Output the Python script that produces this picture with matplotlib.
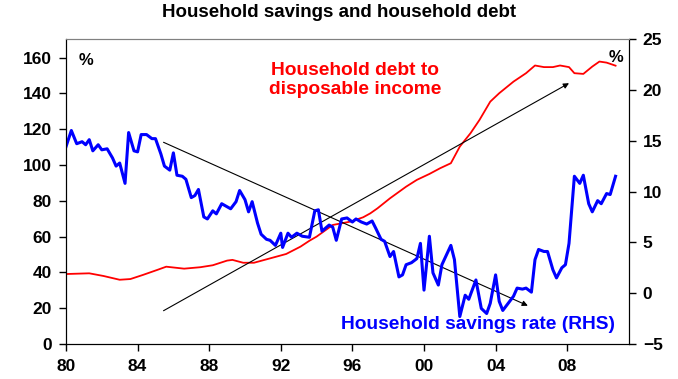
import matplotlib
matplotlib.use("Agg")
import matplotlib.pyplot as plt

plt.rcParams["font.family"] = ["Liberation Sans", "DejaVu Sans"]
plt.rcParams["font.weight"] = "bold"

# Household debt to disposable income (%), left axis
debt_years = [1980.0, 1981.3, 1982.1, 1983.0, 1983.6, 1984.3, 1985.1, 1985.6, 1986.6,
              1987.5, 1988.2, 1989.0, 1989.3, 1989.9, 1990.5, 1991.2, 1992.3, 1993.1,
              1993.6, 1994.0, 1994.9, 1995.9, 1996.6, 1997.0, 1997.4, 1998.1, 1999.0,
              1999.6, 2000.3, 2000.9, 2001.5, 2002.0, 2002.6, 2003.1, 2003.7, 2004.2,
              2005.0, 2005.7, 2006.2, 2006.7, 2007.2, 2007.6, 2008.1, 2008.4, 2008.9,
              2009.4, 2009.8, 2010.2, 2010.7]
debt = [39.1, 39.5, 38.0, 35.9, 36.3, 38.6, 41.4, 43.2, 42.1,
        42.9, 44.0, 46.6, 47.0, 45.4, 45.4, 47.3, 50.3, 54.4,
        57.7, 60.0, 66.5, 68.4, 70.8, 73.0, 75.8, 81.4, 87.9,
        91.7, 95.0, 98.2, 101.0, 110.3, 117.8, 125.2, 135.4, 140.1,
        146.6, 151.3, 155.6, 154.7, 154.7, 155.6, 154.7, 151.3, 150.9,
        155.0, 157.8, 157.2, 155.5]

# Household savings rate (%), right axis
sav_years = [1980.0, 1980.3, 1980.6, 1980.9, 1981.1, 1981.3, 1981.5, 1981.8, 1982.0,
             1982.3, 1982.6, 1982.8, 1983.0, 1983.3, 1983.5, 1983.8, 1984.0, 1984.2,
             1984.5, 1984.8, 1985.0, 1985.3, 1985.5, 1985.8, 1986.0, 1986.2, 1986.5,
             1986.7, 1987.0, 1987.2, 1987.4, 1987.7, 1987.9, 1988.2, 1988.4, 1988.7,
             1989.0, 1989.2, 1989.5, 1989.7, 1990.0, 1990.2, 1990.4, 1990.7, 1990.9,
             1991.2, 1991.4, 1991.7, 1992.0, 1992.1, 1992.4, 1992.6, 1992.9, 1993.2,
             1993.6, 1993.9, 1994.1, 1994.3, 1994.7, 1994.9, 1995.1, 1995.4, 1995.7,
             1996.0, 1996.2, 1996.5, 1996.8, 1997.1, 1997.3, 1997.6, 1997.8, 1998.1,
             1998.3, 1998.6, 1998.8, 1999.0, 1999.3, 1999.6, 1999.8, 2000.0, 2000.3,
             2000.5, 2000.8, 2001.0, 2001.5, 2001.7, 2002.0, 2002.3, 2002.5, 2002.9,
             2003.2, 2003.5, 2003.7, 2004.0, 2004.2, 2004.4, 2004.7, 2005.0, 2005.2,
             2005.5, 2005.7, 2006.0, 2006.2, 2006.4, 2006.7, 2006.9, 2007.2, 2007.4,
             2007.7, 2007.9, 2008.1, 2008.4, 2008.7, 2008.9, 2009.2, 2009.4, 2009.7,
             2009.9, 2010.2, 2010.4, 2010.7]
savings = [14.4, 16.0, 14.7, 14.9, 14.6, 15.1, 14.0, 14.6, 14.1,
           14.2, 13.3, 12.5, 12.8, 10.8, 15.8, 14.0, 13.9, 15.6,
           15.6, 15.2, 15.2, 13.7, 12.5, 12.1, 13.8, 11.6, 11.5,
           11.2, 9.4, 9.6, 10.2, 7.5, 7.3, 8.1, 7.8, 8.8,
           8.5, 8.3, 9.0, 10.1, 9.2, 8.0, 9.0, 6.9, 5.8,
           5.3, 5.2, 4.7, 5.9, 4.5, 5.9, 5.5, 5.9, 5.6,
           5.5, 8.1, 8.2, 6.1, 6.7, 6.5, 5.2, 7.3, 7.4,
           7.0, 7.3, 7.0, 6.8, 7.1, 6.4, 5.3, 5.1, 3.6,
           4.1, 1.6, 1.8, 2.8, 3.0, 3.4, 4.9, 0.3, 5.6,
           2.0, 0.8, 2.8, 4.7, 3.3, -2.3, -0.2, -0.6, 1.3,
           -1.5, -2.0, -1.0, 1.8, -0.8, -1.7, -1.0, -0.3, 0.5,
           0.4, 0.5, 0.1, 3.3, 4.3, 4.1, 4.1, 2.3, 1.5,
           2.5, 2.8, 4.9, 11.5, 10.8, 11.6, 8.8, 8.0, 9.1,
           8.8, 9.8, 9.7, 11.5]

year_ticks = [1980, 1984, 1988, 1992, 1996, 2000, 2004, 2008]
year_labels = ["80", "84", "88", "92", "96", "00", "04", "08"]

# trend arrows (start, end) in (year, left-axis %) terms
savings_arrow = ((1985.45, 112.7), (2005.8, 21.4))
debt_arrow = ((1985.45, 18.6), (2008.1, 145.7))

fig = plt.figure(figsize=(6.78, 3.79), dpi=100)
ax = fig.add_axes([0.0973, 0.0923, 0.8304, 0.8048])
ax2 = ax.twinx()

ax.plot(debt_years, debt, color="#ff0000", lw=1.3)
ax2.plot(sav_years, savings, color="#0000ff", lw=2.2)

ax.set_xlim(1980, 2011.45)
ax.set_ylim(0, 170.4)
ax2.set_ylim(-5, 25)
ax.set_yticks(range(0, 161, 20))
ax2.set_yticks(range(-5, 26, 5))
ax.set_xticks(year_ticks)
ax.set_xticklabels(year_labels)

ax.tick_params(axis="x", direction="out", length=5, width=1, pad=6, labelsize=12.5)
ax.tick_params(axis="y", direction="out", length=5, width=1, pad=5, labelsize=12.5)
ax2.tick_params(axis="y", direction="out", length=5, width=1, pad=5, labelsize=12.5)
for a in (ax, ax2):
    a.spines["top"].set_color("#808080")
    for lbl in a.get_xticklabels() + a.get_yticklabels():
        lbl.set_fontweight("bold")

for (x0, y0), (x1, y1) in (savings_arrow, debt_arrow):
    ax.annotate("", xy=(x1, y1), xytext=(x0, y0),
                arrowprops=dict(arrowstyle="-|>", color="black", lw=0.8,
                                mutation_scale=8, shrinkA=0, shrinkB=0))

ax.text(0.022, 0.955, "%", transform=ax.transAxes, fontsize=12,
        fontweight="bold", va="top", ha="left")
ax.text(0.99, 0.965, "%", transform=ax.transAxes, fontsize=12,
        fontweight="bold", va="top", ha="right")

ax.text(0.513, 0.866, "Household debt to\ndisposable income", transform=ax.transAxes,
        color="#ff0000", fontsize=13.8, fontweight="bold", ha="center", va="center",
        linespacing=1.12)
ax.text(0.975, 0.065, "Household savings rate (RHS)", transform=ax.transAxes,
        color="#0000ff", fontsize=13.8, fontweight="bold", ha="right", va="center")

fig.suptitle("Household savings and household debt", x=0.5, y=0.99,
             fontsize=13.5, fontweight="bold")

fig.savefig("out.png", dpi=100)
